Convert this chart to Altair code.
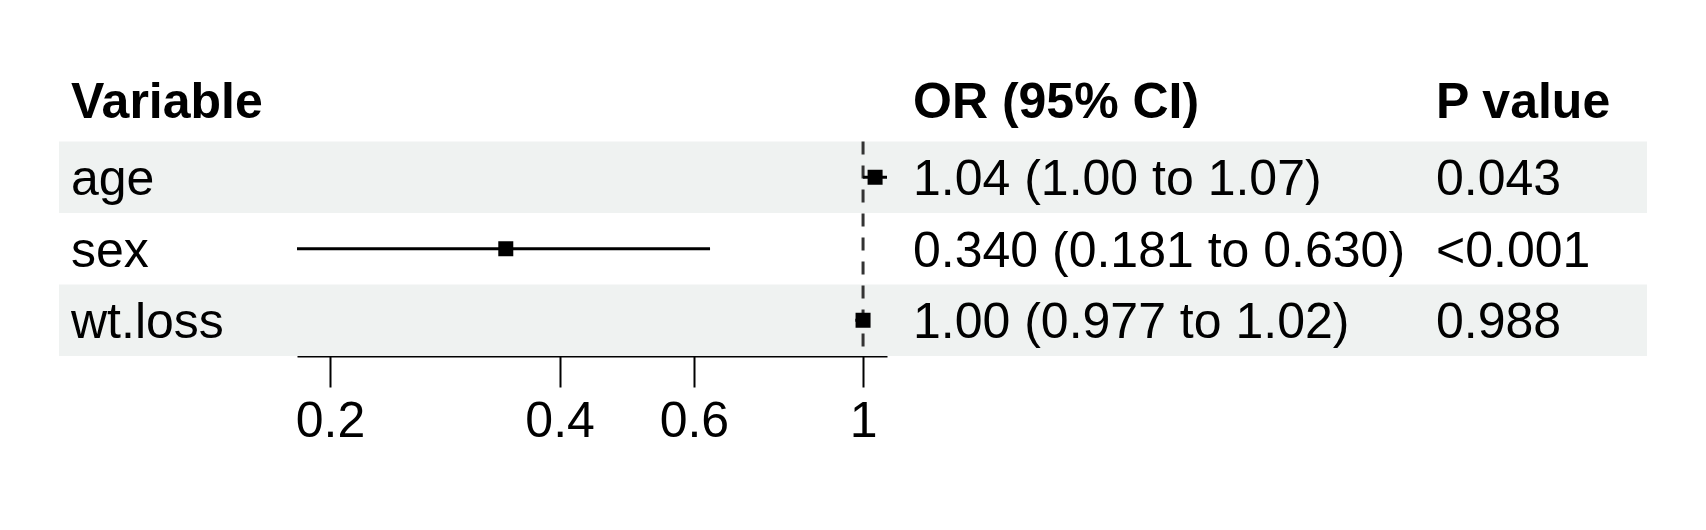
import altair as alt
import pandas as pd

# ---- data ----
variables = ["age", "sex", "wt.loss"]
estimate = [1.037, 0.340, 1.00]
lower = [1.00, 0.181, 0.977]
upper = [1.075, 0.630, 1.02]
or_labels = ["1.04 (1.00 to 1.07)", "0.340 (0.181 to 0.630)", "1.00 (0.977 to 1.02)"]
p_labels = ["0.043", "<0.001", "0.988"]
headers = ["Variable", "OR (95% CI)", "P value"]
tick_values = [0.2, 0.4, 0.6, 1]
ref_value = 1

n = len(variables)
rows = pd.DataFrame({
    "variable": variables,
    "est": estimate,
    "lo": lower,
    "hi": upper,
    "or_txt": or_labels,
    "p_txt": p_labels,
})
rows["center"] = [n - i - 0.5 for i in range(n)]
rows["top"] = [n - i for i in range(n)]
rows["bottom"] = [n - i - 1 for i in range(n)]
rows["shade"] = [i % 2 == 0 for i in range(n)]
rows["ref"] = ref_value
rows["reftop"] = n
rows["refbot"] = 0

FONT = "Liberation Sans"
FS = 50
ROW_H = 71.5
H = 348
W = 1680
y_dom_max = H / ROW_H
COL_X = [63, 905, 1428]

xscale = alt.Scale(type="log", domain=[min(lower), max(upper)], range=[289, 879], nice=False)
yscale = alt.Scale(domain=[0, y_dom_max], nice=False, zero=False)
xaxis = alt.Axis(values=tick_values, format="~g", title=None, grid=False,
                 domainColor="black", domainWidth=2, tickColor="black",
                 tickWidth=2, tickSize=31, labelFontSize=FS, labelFont=FONT,
                 labelColor="black", labelPadding=9)

base = alt.Chart(rows)

bands = base.transform_filter("datum.shade").mark_rect(color="#eff2f1").encode(
    x=alt.value(51), x2=alt.value(1639),
    y=alt.Y("top:Q", scale=yscale, axis=None), y2="bottom:Q",
)

ref = base.transform_filter("datum.top == %d" % n).mark_rule(
    color="#333333", strokeWidth=3, strokeDash=[13, 11]
).encode(
    x=alt.X("ref:Q", scale=xscale, axis=xaxis),
    y=alt.Y("reftop:Q", scale=yscale, axis=None), y2="refbot:Q",
)

ci = base.mark_rule(color="black", strokeWidth=3).encode(
    x=alt.X("lo:Q", scale=xscale, axis=xaxis),
    x2="hi:Q",
    y=alt.Y("center:Q", scale=yscale, axis=None),
)

pts = base.mark_square(color="black", size=225, opacity=1).encode(
    x=alt.X("est:Q", scale=xscale, axis=xaxis),
    y=alt.Y("center:Q", scale=yscale, axis=None),
)

def col_text(field, xpos):
    return base.mark_text(align="left", baseline="middle", font=FONT, fontSize=FS,
                          color="black", dy=3).encode(
        x=alt.value(xpos),
        y=alt.Y("center:Q", scale=yscale, axis=None),
        text=f"{field}:N",
    )

var_txt = col_text("variable", COL_X[0])
or_txt = col_text("or_txt", COL_X[1])
p_txt = col_text("p_txt", COL_X[2])

hdr_layers = []
for h, hx in zip(headers, COL_X):
    hdr_layers.append(
        alt.Chart(pd.DataFrame({"h": [h]})).mark_text(
            align="left", baseline="middle", font=FONT, fontSize=FS,
            fontWeight="bold", color="black", dy=3
        ).encode(x=alt.value(hx), y=alt.value(92), text="h:N")
    )

chart = alt.layer(bands, ref, ci, pts, var_txt, or_txt, p_txt, *hdr_layers).properties(
    width=W, height=H,
    autosize=alt.AutoSizeParams(type="none"),
    padding={"left": 0, "top": 0, "right": 0, "bottom": 150},
).configure_view(stroke=None)

chart.save("out.html", embed_options={"renderer": "svg", "actions": False})
